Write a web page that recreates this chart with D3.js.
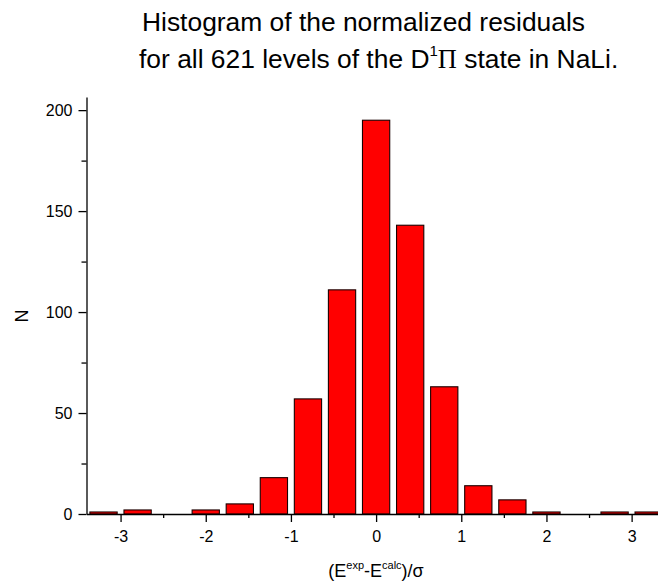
<!DOCTYPE html>
<html>
<head>
<meta charset="utf-8">
<script src="https://cdn.jsdelivr.net/npm/d3@7"></script>
<style>
  html, body { margin: 0; padding: 0; background: #fff; }
  svg { display: block; }
  text { font-family: "Liberation Sans", Arial, sans-serif; fill: #000; }
</style>
</head>
<body>
<svg id="chart" width="658" height="588"></svg>
<script>
// Data
const binCenters = [-3.2, -2.8, -2.4, -2.0, -1.6, -1.2, -0.8, -0.4, 0.0, 0.4, 0.8, 1.2, 1.6, 2.0, 2.4, 2.8, 3.2];
const counts     = [1, 2, 0, 2, 5, 18, 57, 111, 195, 143, 63, 14, 7, 1, 0, 1, 1];
const binWidth = 0.4;
const xMajorTicks = [-3, -2, -1, 0, 1, 2, 3];
const xMinorTicks = [-2.5, -1.5, -0.5, 0.5, 1.5, 2.5];
const yMajorTicks = [0, 50, 100, 150, 200];
const yMinorTicks = [25, 75, 125, 175];

const svg = d3.select("#chart");
const x = d3.scaleLinear().domain([-3.4, 3.4]).range([86.5, 665.7]);
const y = d3.scaleLinear().domain([0, 206.5]).range([514, 97]);

// Bars
svg.append("g").selectAll("rect").data(binCenters).join("rect")
  .attr("x", (d) => x(d - binWidth * 0.4))
  .attr("width", (d) => x(d + binWidth * 0.4) - x(d - binWidth * 0.4))
  .attr("y", (d, i) => y(counts[i]))
  .attr("height", (d, i) => y(0) - y(counts[i]))
  .attr("fill", "#ff0000")
  .attr("stroke", "#1a0000")
  .attr("stroke-width", 1.1);

// X axis
svg.append("g").attr("transform", `translate(0,${y(0)})`)
  .call(d3.axisBottom(x).tickValues(xMajorTicks).tickSize(8).tickSizeOuter(0).tickPadding(9)
    .tickFormat((d) => String(d)));
svg.append("g").attr("transform", `translate(0,${y(0)})`)
  .call(d3.axisBottom(x).tickValues(xMinorTicks).tickSize(4).tickSizeOuter(0).tickFormat(""))
  .select(".domain").remove();

// Y axis
svg.append("g").attr("transform", `translate(${x(-3.4)},0)`)
  .call(d3.axisLeft(y).tickValues(yMajorTicks).tickSize(8).tickSizeOuter(0).tickPadding(6)
    .tickFormat((d) => String(d)));
svg.append("g").attr("transform", `translate(${x(-3.4)},0)`)
  .call(d3.axisLeft(y).tickValues(yMinorTicks).tickSize(5).tickSizeOuter(0).tickFormat(""))
  .select(".domain").remove();

svg.selectAll(".domain, .tick line").attr("stroke", "#000").attr("stroke-width", 1.3);
svg.selectAll(".tick text").attr("font-size", 16).attr("font-family", "Liberation Sans, Arial, sans-serif").attr("fill", "#000");

// Axis titles
const xl = svg.append("text").attr("x", 376).attr("y", 577).attr("text-anchor", "middle").attr("font-size", 18);
xl.append("tspan").text("(E");
xl.append("tspan").attr("font-size", 11).attr("dy", -8).text("exp");
xl.append("tspan").attr("dy", 8).text("-E");
xl.append("tspan").attr("font-size", 11).attr("dy", -8).text("calc");
xl.append("tspan").attr("dy", 8).text(")/σ");

svg.append("text").attr("transform", "translate(28,316) rotate(-90)")
  .attr("text-anchor", "middle").attr("font-size", 18).text("N");

// Title
svg.append("text").attr("x", 142).attr("y", 31).attr("font-size", 26.4)
  .text("Histogram of the normalized residuals");
const t2 = svg.append("text").attr("x", 139).attr("y", 68).attr("font-size", 26.4);
t2.append("tspan").text("for all 621 levels of the D");
t2.append("tspan").attr("font-size", 15).attr("dy", -12).text("1");
t2.append("tspan").attr("dy", 12).attr("font-family", "Liberation Serif, Times New Roman, serif").text("Π");
t2.append("tspan").text(" state in NaLi.");
</script>
</body>
</html>
